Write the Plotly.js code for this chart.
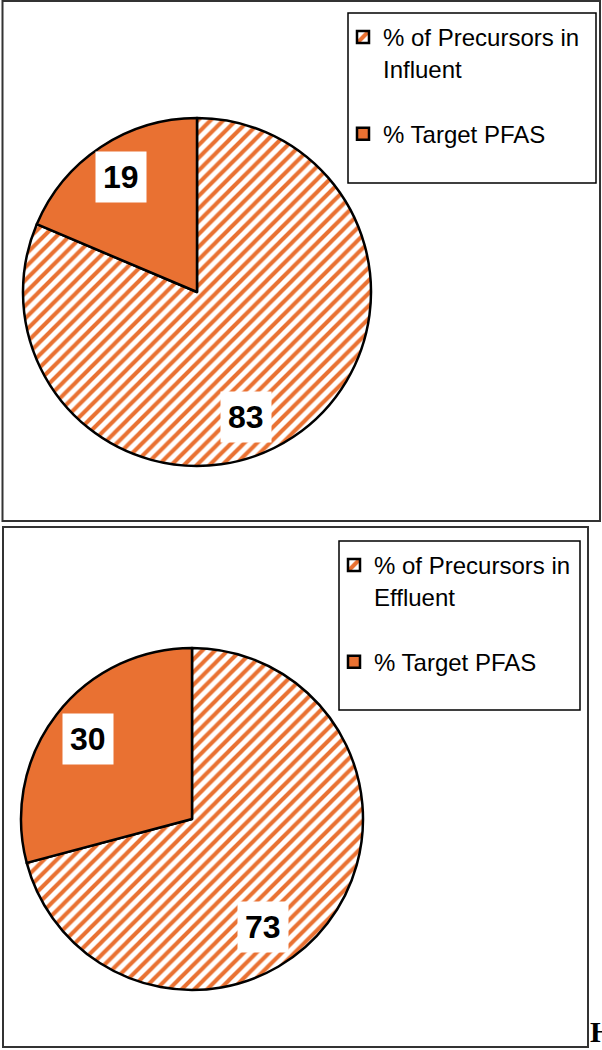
<!DOCTYPE html>
<html>
<head>
<meta charset="utf-8">
<script src="https://cdn.plot.ly/plotly-3.0.1.min.js"></script>
<style>
  html, body { margin: 0; padding: 0; background: #ffffff; }
  #chart { width: 602px; height: 1050px; }
</style>
</head>
<body>
<div id="chart"></div>
<script>
// ---- data ----
const influentLabels = ["% of Precursors in<br>Influent<br> ", "% Target PFAS"];
const influentValues = [83, 19];
// second pie: labels wrapped in a span so the legend does not merge them with the first pie's labels
const effluentLabels = ["<span>% of Precursors in<br>Effluent<br> </span>", "<span>% Target PFAS</span>"];
const effluentValues = [73, 30];

// ---- styling / layout helpers ----
const W = 602, H = 1050;
const ORANGE = "#E97132";
const px = v => v / W;
const py = v => 1 - v / H;

// pie geometry in page pixels (center, radius)
const pies = [
  { cx: 197, cy: 292, r: 174, values: influentValues, labels: influentLabels, legend: "legend",
    labelFrac: [0.77, 0.79], labelNudge: [12, 0] },
  { cx: 192, cy: 819, r: 171, values: effluentValues, labels: effluentLabels, legend: "legend2",
    labelFrac: [0.755, 0.77], labelNudge: [19, 0] }
];

const traces = pies.map(p => ({
  type: "pie",
  values: p.values,
  labels: p.labels,
  sort: false,
  direction: "clockwise",
  rotation: 0,
  textinfo: "none",
  hoverinfo: "label+value",
  legend: p.legend,
  domain: { x: [px(p.cx - p.r), px(p.cx + p.r)], y: [py(p.cy + p.r), py(p.cy - p.r)] },
  marker: {
    colors: ["#ffffff", ORANGE],
    line: { color: "#000000", width: 2.5 },
    pattern: {
      shape: ["/", ""],
      fgcolor: [ORANGE, ORANGE],
      bgcolor: ["#ffffff", ORANGE],
      size: 9,
      solidity: 0.45
    }
  }
}));

// value labels: white boxes placed at slice angles computed from the data
const annotations = [];
pies.forEach(p => {
  const total = p.values.reduce((a, b) => a + b, 0);
  let start = 0;
  p.values.forEach((v, i) => {
    const sweep = v / total * 360;
    const mid = start + sweep / 2 + p.labelNudge[i];
    start += sweep;
    const a = mid * Math.PI / 180;
    const d = p.r * p.labelFrac[i];
    annotations.push({
      xref: "paper", yref: "paper",
      x: px(p.cx + d * Math.sin(a)), y: py(p.cy - d * Math.cos(a)),
      xanchor: "center", yanchor: "middle",
      text: "<b>" + v + "</b>",
      showarrow: false,
      bgcolor: "#ffffff",
      borderpad: 7,
      font: { family: "Liberation Sans, Arial, sans-serif", size: 32, color: "#000000" }
    });
  });
});

// stray caption fragment at bottom-right edge
annotations.push({
  xref: "paper", yref: "paper", x: px(589), y: py(1049),
  xanchor: "left", yanchor: "bottom", showarrow: false, borderpad: 0,
  text: "<b>H</b>",
  font: { family: "Liberation Serif, Times New Roman, serif", size: 30, color: "#000000" }
});

const frame = (x0, y0, x1, y1, w, c) => ({
  type: "rect", xref: "paper", yref: "paper",
  x0: px(x0), x1: px(x1), y0: py(y1), y1: py(y0),
  line: { color: c, width: w }, fillcolor: "rgba(0,0,0,0)", layer: "above"
});

const legendFont = { family: "Liberation Sans, Arial, sans-serif", size: 24, color: "#000000" };

const layout = {
  width: W, height: H,
  margin: { l: 0, r: 0, t: 0, b: 0 },
  paper_bgcolor: "#ffffff",
  showlegend: true,
  legend: {
    x: px(343), y: py(15), xanchor: "left", yanchor: "top",
    bgcolor: "rgba(0,0,0,0)", borderwidth: 0, font: legendFont, valign: "top"
  },
  legend2: {
    x: px(334), y: py(543), xanchor: "left", yanchor: "top",
    bgcolor: "rgba(0,0,0,0)", borderwidth: 0, font: legendFont, valign: "top"
  },
  shapes: [
    frame(2.5, 1, 600, 521, 2, "#333333"),
    frame(3, 527, 588, 1047, 2, "#333333"),
    frame(348, 13, 596, 183, 1.5, "#000000"),
    frame(339, 541, 580, 710, 1.5, "#000000")
  ],
  annotations: annotations
};

Plotly.newPlot("chart", traces, layout, { displayModeBar: false, staticPlot: true });
</script>
</body>
</html>
